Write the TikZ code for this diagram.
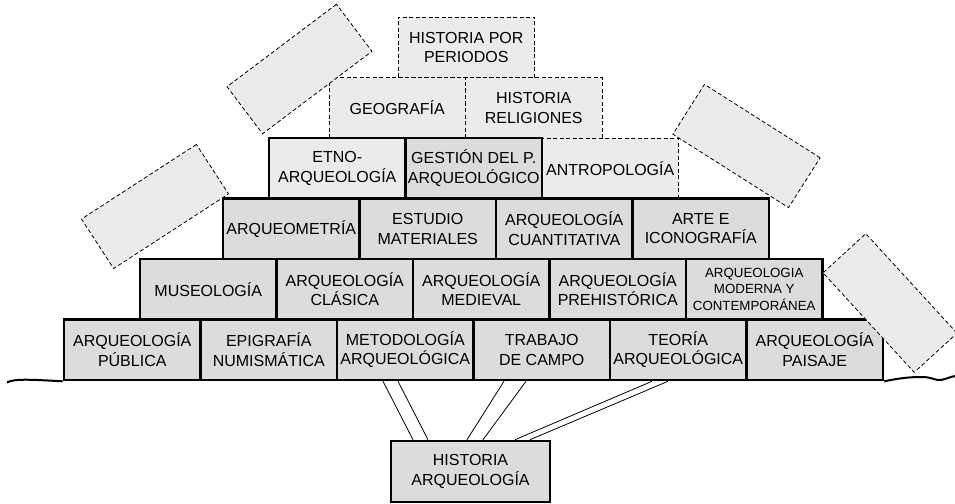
\documentclass[tikz,border=0pt]{standalone}
\usepackage{fontspec}
\setmainfont{Liberation Sans}
\definecolor{brickgray}{HTML}{DCDCDC}
\definecolor{loosegray}{HTML}{EBEBEB}
\tikzset{
	brick/.style={draw, line width=2.6pt, fill=brickgray, minimum width=136.5pt, minimum height=60.5pt, inner sep=0pt, align=center, font=\fontsize{16}{19.5}\selectfont},
	loose/.style={brick, line width=0.8pt, dash pattern=on 4pt off 2.5pt, fill=loosegray},
	ghost/.style={loose, minimum width=137pt, minimum height=59pt},
	prop/.style={line width=0.8pt},
	ground/.style={line width=2pt}
}

\begin{document}
\begin{tikzpicture}[x=1pt, y=-1pt]
	\useasboundingbox (0,0) rectangle (955,503);
		\node[loose] (periodos) at (466.25,47.25) {HISTORIA POR\\PERIODOS};
		\node[loose] (geog) at (397.25,107.75) {GEOGRAFÍA};
		\node[loose] (relig) at (533.75,107.75) {HISTORIA\\RELIGIONES};
		\node[loose] (antrop) at (610.25,168.25) {ANTROPOLOGÍA};
		\node[brick, fill=loosegray] (etno) at (337.25,168.25) {ETNO-\\ARQUEOLOGÍA};
		\node[brick] (gestion) at (473.75,168.25) {GESTIÓN DEL P.\\ARQUEOLÓGICO};
		\node[brick] (arqmet) at (291.25,228.75) {ARQUEOMETRÍA};
		\node[brick] (estudio) at (427.75,228.75) {ESTUDIO\\MATERIALES};
		\node[brick] (cuant) at (564.25,228.75) {ARQUEOLOGÍA\\CUANTITATIVA};
		\node[brick] (arte) at (700.75,228.75) {ARTE E\\ICONOGRAFÍA};
		\node[brick] (museo) at (208.25,289.25) {MUSEOLOGÍA};
		\node[brick] (clasica) at (344.75,289.25) {ARQUEOLOGÍA\\CLÁSICA};
		\node[brick] (medieval) at (481.25,289.25) {ARQUEOLOGÍA\\MEDIEVAL};
		\node[brick] (prehist) at (617.75,289.25) {ARQUEOLOGÍA\\PREHISTÓRICA};
		\node[brick, font=\fontsize{13.3}{16.5}\selectfont] (moderna) at (754.25,289.25) {ARQUEOLOGIA\\MODERNA Y\\CONTEMPORÁNEA};
		\node[brick] (publica) at (132.25,349.75) {ARQUEOLOGÍA\\PÚBLICA};
		\node[brick] (epig) at (268.75,349.75) {EPIGRAFÍA\\NUMISMÁTICA};
		\node[brick] (metod) at (405.25,349.75) {METODOLOGÍA\\ARQUEOLÓGICA};
		\node[brick] (trabajo) at (541.75,349.75) {TRABAJO\\DE CAMPO};
		\node[brick] (teoria) at (678.25,349.75) {TEORÍA\\ARQUEOLÓGICA};
		\node[brick] (paisaje) at (814.75,349.75) {ARQUEOLOGÍA\\PAISAJE};
		\node[brick, minimum width=159pt, minimum height=61pt] (hist) at (470.5,471.5) {HISTORIA\\ARQUEOLOGÍA};
		\node[ghost, rotate=37] (ghosta) at (299.5,69) {};
		\node[ghost, rotate=33] (ghostb) at (155,206.5) {};
		\node[ghost, rotate=-32.4] (ghostc) at (746.5,146) {};
		\node[ghost, rotate=-47.5, minimum width=135pt, minimum height=58pt] (ghostd) at (890,303) {};
		\draw[prop] ([xshift=-22.25pt]metod.south) -- ([xshift=-57.5pt]hist.north);
		\draw[prop] ([xshift=-7.25pt]metod.south) -- ([xshift=-42.5pt]hist.north);
		\draw[prop] ([xshift=-37.75pt]trabajo.south) -- ([xshift=-3.5pt]hist.north);
		\draw[prop] ([xshift=-15.75pt]trabajo.south) -- ([xshift=12.5pt]hist.north);
		\draw[prop] ([xshift=-26.25pt]teoria.south) -- ([xshift=44.5pt]hist.north);
		\draw[prop] ([xshift=-10.25pt]teoria.south) -- ([xshift=59.5pt]hist.north);
		\draw[ground] (7,382.5) .. controls (14,378.5) and (30,379.5) .. (publica.south west);
		\draw[ground] (paisaje.south east) .. controls (900,378) and (910,377) .. (922,377) .. controls (932,377) and (936,381) .. (941,380) .. controls (946,379) and (950,377) .. (955,376);
\end{tikzpicture}
\end{document}
